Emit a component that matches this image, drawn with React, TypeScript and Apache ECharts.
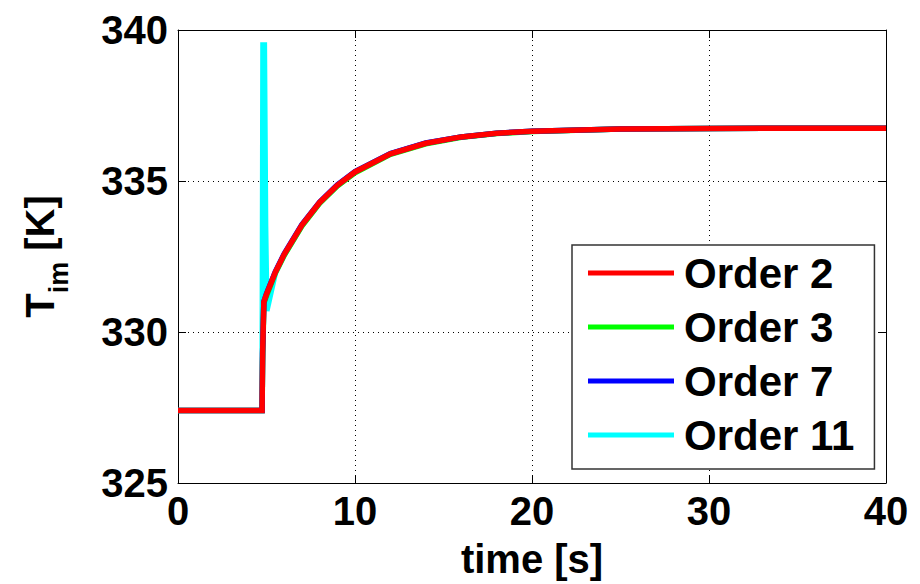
import React, { useEffect, useRef } from "react";
import * as echarts from "echarts";

const seriesNames = ["Order 2", "Order 3", "Order 7", "Order 11"];
const seriesColors = ["#ff0000", "#00ff00", "#0000ff", "#00ffff"];

const tOrder2 = [0, 4.75, 4.78, 4.85, 5.0, 5.5, 6, 7, 8, 9, 10, 12, 14, 16, 18, 20, 25, 30, 35, 40];
const vOrder2 = [327.4, 327.4, 329.3, 331.0, 331.25, 331.98, 332.57, 333.54, 334.29, 334.86, 335.3, 335.9, 336.25, 336.46, 336.58, 336.65, 336.72, 336.74, 336.75, 336.75];

const tOrder3 = [0, 4.75, 4.78, 4.85, 5.0, 5.5, 6, 7, 8, 9, 10, 12, 14, 16, 18, 20, 25, 30, 35, 40];
const vOrder3 = [327.4, 327.4, 329.0, 330.95, 331.2, 331.95, 332.54, 333.51, 334.26, 334.83, 335.27, 335.88, 336.23, 336.45, 336.57, 336.64, 336.72, 336.74, 336.75, 336.75];

const tOrder7 = [0, 4.75, 4.78, 4.85, 5.0, 5.5, 6, 7, 8, 9, 10, 12, 14, 16, 18, 20, 25, 30, 35, 40];
const vOrder7 = [327.4, 327.4, 329.3, 331.0, 331.27, 332.0, 332.59, 333.56, 334.3, 334.87, 335.31, 335.91, 336.26, 336.46, 336.58, 336.65, 336.72, 336.74, 336.75, 336.75];

const tOrder11 = [0, 4.75, 4.8, 4.88, 4.95, 5.02, 5.5, 6, 7, 8, 9, 10, 12, 14, 16, 18, 20, 25, 30, 35, 40];
const vOrder11 = [327.4, 327.4, 339.5, 339.5, 333.5, 330.7, 331.95, 332.55, 333.53, 334.28, 334.85, 335.3, 335.9, 336.25, 336.46, 336.58, 336.65, 336.72, 336.74, 336.75, 336.75];

const xTicks = [0, 10, 20, 30, 40];
const yTicks = [325, 330, 335, 340];

const FONT = '"Liberation Sans", Arial, Helvetica, sans-serif';

function pairs(t: number[], v: number[]) {
  return t.map((x, i) => [x, v[i]]);
}

export default function App() {
  const ref = useRef<HTMLDivElement>(null);
  useEffect(() => {
    if (!ref.current) return;
    const chart = echarts.init(ref.current, null, { renderer: "svg" });
    const labelStyle = { color: "#000", fontFamily: FONT, fontWeight: "bold" as const, fontSize: 40 };
    const baseX = {
      type: "value" as const,
      min: xTicks[0],
      max: xTicks[xTicks.length - 1],
      interval: 10,
      axisLine: { show: true, onZero: false, lineStyle: { color: "#000", width: 1 } },
      axisTick: { show: true, inside: true, length: 8, lineStyle: { color: "#000" } },
    };
    const baseY = {
      type: "value" as const,
      min: yTicks[0],
      max: yTicks[yTicks.length - 1],
      interval: 5,
      axisLine: { show: true, onZero: false, lineStyle: { color: "#000", width: 1 } },
      axisTick: { show: true, inside: true, length: 8, lineStyle: { color: "#000" } },
    };
    const data = [
      pairs(tOrder2, vOrder2),
      pairs(tOrder3, vOrder3),
      pairs(tOrder7, vOrder7),
      pairs(tOrder11, vOrder11),
    ];
    const zs = [10, 7, 8, 6];
    chart.setOption({
      animation: false,
      backgroundColor: "#fff",
      grid: { left: 178, right: 34, top: 30, bottom: 99, containLabel: false },
      xAxis: [
        {
          ...baseX,
          position: "bottom",
          name: "time [s]",
          nameLocation: "middle",
          nameGap: 56,
          nameTextStyle: { ...labelStyle },
          axisLabel: { ...labelStyle, margin: 8 },
          splitLine: { show: true, lineStyle: { color: "#000", type: [1, 4], width: 1 } },
        },
        {
          ...baseX,
          position: "top",
          axisLabel: { show: false },
          splitLine: { show: false },
        },
      ],
      yAxis: [
        {
          ...baseY,
          position: "left",
          name: "{a|T}{b|im}{a| [K]}",
          nameLocation: "middle",
          nameGap: 118,
          nameRotate: 90,
          nameTextStyle: {
            rich: {
              a: { ...labelStyle, fontSize: 40, lineHeight: 50, verticalAlign: "bottom" },
              b: { ...labelStyle, fontSize: 27, lineHeight: 50, verticalAlign: "bottom", padding: [0, 0, -12, 0] },
            },
          },
          axisLabel: { ...labelStyle, margin: 10 },
          splitLine: { show: true, lineStyle: { color: "#000", type: [1, 4], width: 1 } },
        },
        {
          ...baseY,
          position: "right",
          axisLabel: { show: false },
          splitLine: { show: false },
        },
      ],
      legend: {
        orient: "vertical",
        left: 572,
        top: 245,
        data: seriesNames,
        icon: "rect",
        itemWidth: 86,
        itemHeight: 5,
        itemGap: 10,
        padding: [6, 20, 12, 16],
        backgroundColor: "#fff",
        borderColor: "#333",
        borderWidth: 1.5,
        borderRadius: 0,
        textStyle: { ...labelStyle, fontSize: 42, lineHeight: 44, padding: [0, 0, 0, 5] },
        z: 20,
      },
      series: seriesNames.map((name, i) => ({
        name,
        type: "line",
        data: data[i],
        showSymbol: false,
        symbol: "none",
        color: seriesColors[i],
        lineStyle: { color: seriesColors[i], width: 5.5, cap: "butt", join: "miter" },
        z: zs[i],
        xAxisIndex: 0,
        yAxisIndex: 0,
      })),
    });
    return () => chart.dispose();
  }, []);
  return <div ref={ref} style={{ width: 920, height: 584, position: "absolute", left: 0, top: 0 }} />;
}
